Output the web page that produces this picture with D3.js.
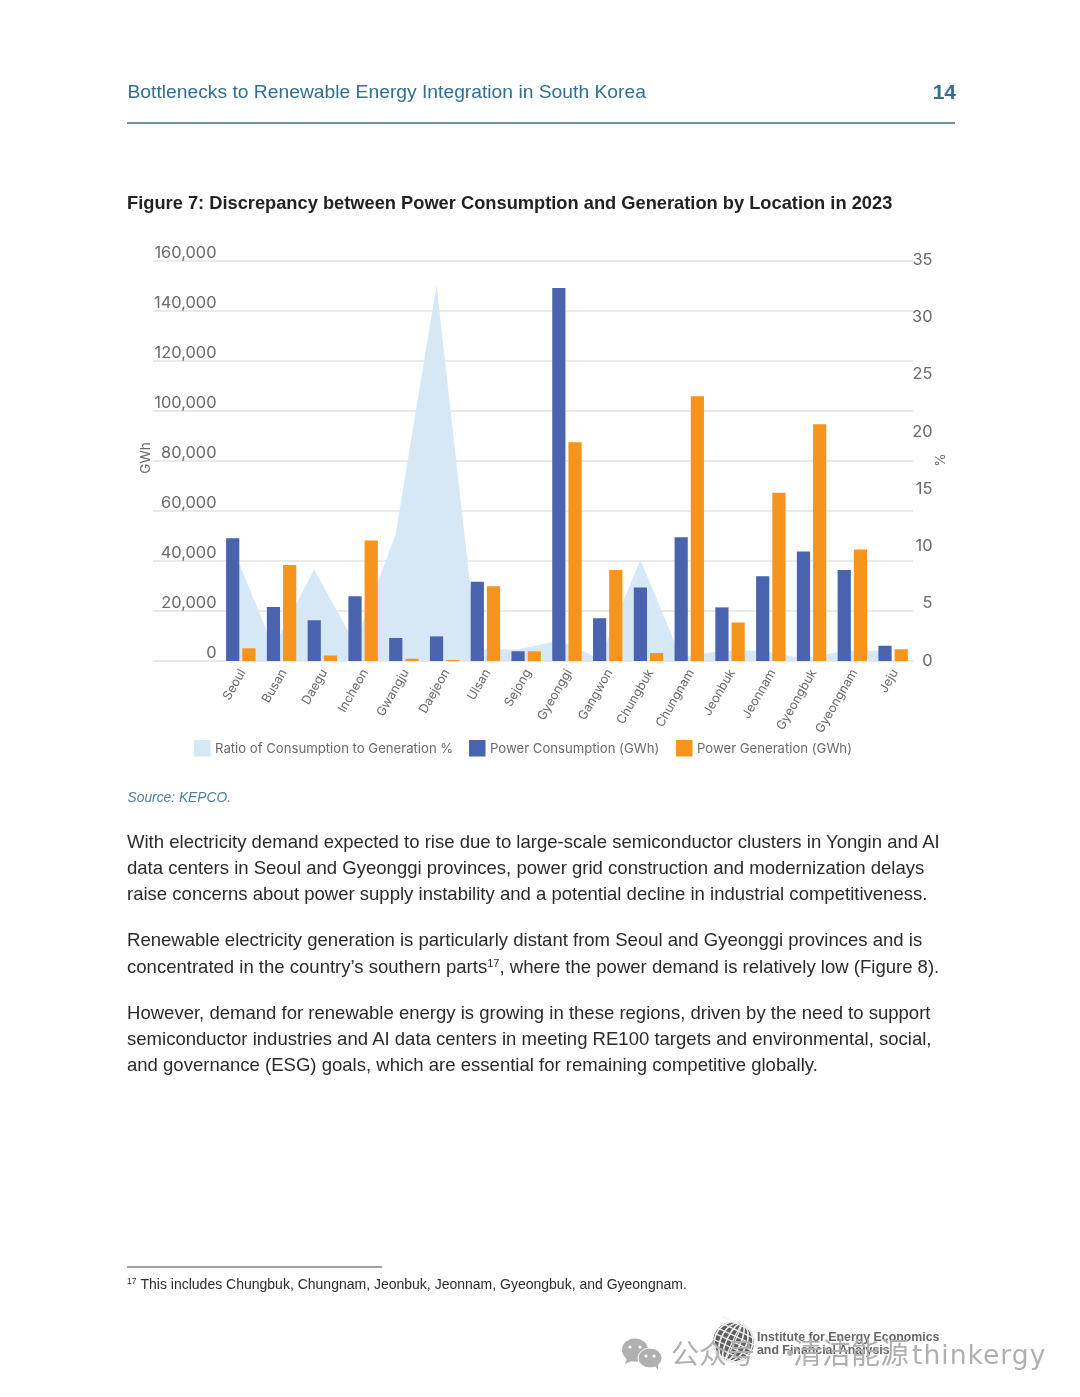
<!DOCTYPE html>
<html><head><meta charset="utf-8">
<script src="https://cdn.jsdelivr.net/npm/d3@7"></script>
<style>html,body{margin:0;padding:0;background:#fff}svg{display:block}</style></head>
<body><svg id="c" width="1080" height="1397"></svg>
<script>
const categories=["Seoul","Busan","Daegu","Incheon","Gwangju","Daejeon","Ulsan","Sejong","Gyeonggi","Gangwon","Chungbuk","Chungnam","Jeonbuk","Jeonnam","Gyeongbuk","Gyeongnam","Jeju"];
const consumption=[49100,21600,16300,25900,9200,9850,31700,3900,149200,17100,29400,49500,21450,33900,43800,36400,6100];
const generation=[5100,38400,2200,48200,900,400,29900,3900,87500,36400,3200,105900,15400,67300,94700,44600,4700];
const ratio=[9.9,1.2,8.0,1.5,11.15,32.9,1.0,1.0,1.8,0.2,8.85,0.3,0.9,0.9,0.2,0.9,0.9];
const leftTicks=[0,20000,40000,60000,80000,100000,120000,140000,160000];
const rightTicks=[0,5,10,15,20,25,30,35];
const legendLabels=["Ratio of Consumption to Generation %","Power Consumption (GWh)","Power Generation (GWh)"];
const para1=["With electricity demand expected to rise due to large-scale semiconductor clusters in Yongin and AI","data centers in Seoul and Gyeonggi provinces, power grid construction and modernization delays","raise concerns about power supply instability and a potential decline in industrial competitiveness."];
const para2="Renewable electricity generation is particularly distant from Seoul and Gyeonggi provinces and is";
const para3=["However, demand for renewable energy is growing in these regions, driven by the need to support","semiconductor industries and AI data centers in meeting RE100 targets and environmental, social,","and governance (ESG) goals, which are essential for remaining competitive globally."];

const svg=d3.select("#c");
const PDF="'Liberation Sans',Arial,sans-serif", CH="Inter,'Liberation Sans',sans-serif";
const GRAY="#6b6b6b",BLUE="#4a64ae",ORANGE="#f7941d",AREA="#d6e8f5",BODY="#2b2b2b";
const top_=261,bot=661,gridL=153,gridR=913;
const x=d3.scaleBand().domain(categories).range([220.4,913.5]);
const y=d3.scaleLinear().domain([0,160000]).range([bot,top_]);
const yR=d3.scaleLinear().domain([0,35]).range([bot,top_]);
const yRLabel=d3.scaleLinear().domain([0,35]).range([bot-1,top_-2]);
const barW=13.2,gap=3,bodySize=18.55;

const defs=svg.append("defs");
defs.append("filter").attr("id","soft").append("feGaussianBlur").attr("stdDeviation",0.45);
const page=svg.append("g").attr("filter","url(#soft)");

// header
page.append("text").attr("x",127.5).attr("y",98).attr("font-family",PDF).attr("font-size",19.28).attr("fill","#2f6f95").text("Bottlenecks to Renewable Energy Integration in South Korea");
page.append("text").attr("x",956).attr("y",99).attr("text-anchor","end").attr("font-family",PDF).attr("font-weight","bold").attr("font-size",21).attr("fill","#2f6f95").text("14");
page.append("line").attr("x1",127).attr("x2",955).attr("y1",123).attr("y2",123).attr("stroke","#3f6d8f").attr("stroke-width",1.5);
page.append("text").attr("x",127).attr("y",209).attr("font-family",PDF).attr("font-weight","bold").attr("font-size",18.28).attr("fill","#222").text("Figure 7: Discrepancy between Power Consumption and Generation by Location in 2023");

// grid
const chart=page.append("g");
chart.append("g").selectAll("line").data(leftTicks).join("line")
 .attr("x1",gridL).attr("x2",gridR).attr("y1",d=>y(d)).attr("y2",d=>y(d))
 .attr("stroke","#d6d6d6").attr("stroke-width",1.2);

// area: points sit over the consumption bars
const px=d=>x(d)+x.bandwidth()/2-gap/2-barW/2;
const area=d3.area().x((d,i)=>px(categories[i])).y0(bot).y1(d=>yR(d));
chart.append("path").datum(ratio).attr("d",area).attr("fill",AREA);

// bars
chart.append("g").selectAll("rect").data(consumption).join("rect")
 .attr("x",(d,i)=>px(categories[i])-barW/2).attr("width",barW)
 .attr("y",d=>y(d)).attr("height",d=>bot-y(d)).attr("fill",BLUE);
chart.append("g").selectAll("rect").data(generation).join("rect")
 .attr("x",(d,i)=>px(categories[i])+barW/2+gap).attr("width",barW)
 .attr("y",d=>y(d)).attr("height",d=>bot-y(d)).attr("fill",ORANGE);

// axes
const yAxis=d3.axisLeft(y).tickValues(leftTicks).tickSize(0).tickPadding(0).tickFormat(d3.format(","));
const gL=chart.append("g").attr("transform","translate(216.5,-8.5)").call(yAxis);
gL.select(".domain").remove();
gL.selectAll("text").attr("font-family",CH).attr("font-size",16.4).attr("fill",GRAY);
const rAxis=d3.axisRight(yRLabel).tickValues(rightTicks).tickSize(0).tickPadding(0);
const gR=chart.append("g").attr("transform","translate(932.5,0)").call(rAxis);
gR.select(".domain").remove();
gR.selectAll("text").attr("font-family",CH).attr("font-size",16.4).attr("fill",GRAY).attr("text-anchor","end");
const xAxis=d3.axisBottom(x).tickSize(0).tickPadding(0);
const gX=chart.append("g").attr("transform",`translate(0,${bot})`).call(xAxis);
gX.select(".domain").remove();
gX.selectAll("text").attr("font-family",CH).attr("font-size",12.5).attr("fill",GRAY)
 .attr("text-anchor","end").attr("transform","translate(1.5,9) rotate(-60)").attr("dy","0.35em").attr("y",0);

chart.append("text").attr("transform","translate(150,458) rotate(-90)").attr("text-anchor","middle").attr("font-family",CH).attr("font-size",13.5).attr("fill",GRAY).text("GWh");
chart.append("text").attr("transform","translate(935,460) rotate(90)").attr("text-anchor","middle").attr("font-family",CH).attr("font-size",13.5).attr("fill",GRAY).text("%");

// legend
const lx=[194,469,676],lc=[AREA,BLUE,ORANGE];
const leg=chart.append("g").selectAll("g").data(legendLabels).join("g").attr("transform",(d,i)=>`translate(${lx[i]},740)`);
leg.append("rect").attr("width",16.5).attr("height",16.5).attr("fill",(d,i)=>lc[i]);
leg.append("text").attr("x",21).attr("y",13.3).attr("font-family",CH).attr("font-size",13.15).attr("fill",GRAY).text(d=>d);

// source and body
page.append("text").attr("x",127.5).attr("y",802).attr("font-family",PDF).attr("font-style","italic").attr("font-size",13.8).attr("fill","#4f7f9f").text("Source: KEPCO.");
const drawLines=(lines,y0)=>page.append("g").selectAll("text").data(lines).join("text")
 .attr("x",127).attr("y",(d,i)=>y0+i*25.75).attr("font-family",PDF).attr("font-size",bodySize).attr("fill",BODY).text(d=>d);
drawLines(para1,848);
drawLines([para2],946);
drawLines(para3,1019);
const l=page.append("text").attr("x",127).attr("y",972.5).attr("font-family",PDF).attr("font-size",bodySize).attr("fill",BODY);
l.append("tspan").text("concentrated in the country\u2019s southern parts");
l.append("tspan").attr("dy",-6).attr("font-size",11).text("17");
l.append("tspan").attr("dy",6).text(", where the power demand is relatively low (Figure 8).");

// footnote
page.append("line").attr("x1",127).attr("x2",382).attr("y1",1267).attr("y2",1267).attr("stroke","#444").attr("stroke-width",1);
const f=page.append("text").attr("x",127).attr("y",1289).attr("font-family",PDF).attr("font-size",14).attr("fill",BODY);
f.append("tspan").attr("font-size",8.5).attr("dy",-5).text("17");
f.append("tspan").attr("dy",5).attr("dx",4).text("This includes Chungbuk, Chungnam, Jeonbuk, Jeonnam, Gyeongbuk, and Gyeongnam.");

// logo and watermark
const logo=page.append("g").attr("transform","translate(733.5,1342)");
logo.append("circle").attr("r",20.5).attr("fill","#5f5f5f");
d3.range(-3,4).forEach(k=>{
 logo.append("ellipse").attr("rx",Math.abs(k)*6+1).attr("ry",20.5).attr("fill","none").attr("stroke","#eee").attr("stroke-width",1.3).attr("transform","rotate(25)");
 logo.append("line").attr("x1",-20).attr("x2",20).attr("y1",k*6).attr("y2",k*6).attr("stroke","#eee").attr("stroke-width",1.3).attr("transform","rotate(25)");
});
page.append("text").attr("x",757).attr("y",1341).attr("font-family",PDF).attr("font-weight","bold").attr("font-size",12.35).attr("fill","#666").text("Institute for Energy Economics");
page.append("text").attr("x",757).attr("y",1354).attr("font-family",PDF).attr("font-weight","bold").attr("font-size",12.35).attr("fill","#666").text("and Financial Analysis");
const wm=page.append("g").attr("fill","#b0b0b0");
wm.append("ellipse").attr("cx",635).attr("cy",1350).attr("rx",13).attr("ry",11.5);
wm.append("path").attr("d","M627,1358 l-2,6 l7,-3 z");
wm.append("ellipse").attr("cx",650).attr("cy",1358).attr("rx",12).attr("ry",10).attr("stroke","#fff").attr("stroke-width",1);
wm.append("path").attr("d","M655,1366 l3,4 l0,-6 z");
[[630,1347],[640,1347],[646,1356],[654,1356]].forEach(p=>wm.append("circle").attr("cx",p[0]).attr("cy",p[1]).attr("r",1.6).attr("fill","#fff"));
wm.append("text").attr("x",671).attr("y",1364).attr("font-family","'Noto Sans CJK SC'").attr("font-size",28).text("公众号");
wm.append("text").attr("x",776).attr("y",1364).attr("font-family","'Noto Sans CJK SC'").attr("font-size",28).text("·");
wm.append("text").attr("x",793).attr("y",1364).attr("font-family","'Noto Sans CJK SC'").attr("font-size",29).text("清洁能源");
wm.append("text").attr("x",912).attr("y",1364).attr("font-family","'DejaVu Sans'").attr("font-size",26.6).attr("letter-spacing",1).text("thinkergy");
</script></body></html>
